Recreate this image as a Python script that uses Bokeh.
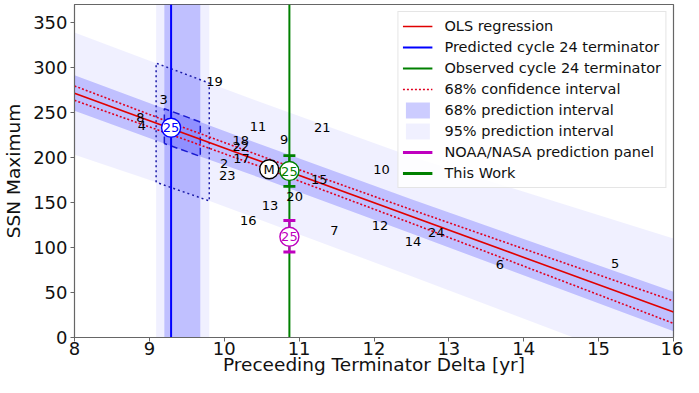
import numpy as np
from bokeh.plotting import figure
from bokeh.models import Range1d, BoxAnnotation, Legend, LegendItem, FixedTicker
from bokeh.core.properties import value
from bokeh.embed import file_html
from bokeh.resources import INLINE

# ---- data ----
cycles = ["2", "3", "4", "5", "6", "7", "8", "9", "10", "11", "12", "13",
          "14", "15", "16", "17", "18", "19", "20", "21", "22", "23", "24"]
delta = [10.00, 9.19, 8.90, 15.22, 13.68, 11.47, 8.88, 10.80, 12.10, 10.45, 12.08, 10.61,
         12.52, 11.27, 10.32, 10.23, 10.22, 9.87, 10.94, 11.31, 10.22, 10.04, 12.83]
ssn_max = [193.0, 264.3, 235.3, 82.0, 81.2, 119.2, 244.9, 219.9, 186.2, 233.9, 124.4, 146.2,
           107.1, 175.7, 130.2, 198.6, 218.7, 285.0, 156.6, 232.9, 212.5, 180.3, 116.4]

reg_x = [8.0, 16.0]
reg_y = [271.3, 28.2]

band_x = [8.0, 9.5, 10.6, 12.5, 16.0]
conf_hi = [279.5, 232.0, 198.3, 142.0, 40.6]
conf_lo = [263.5, 219.2, 186.3, 127.0, 15.7]
pred68_hi = [291.5, 245.0, 211.0, 153.5, 50.8]
pred68_lo = [252.0, 206.5, 173.8, 115.5, 7.0]
pred95_hi = [339.0, 292.0, 258.0, 201.0, 110.0]
pred95_lo = [203.0, 161.0, 127.0, 68.0, -42.0]

pred_term = 9.29
pred_term_68 = [9.20, 9.68]
pred_term_95 = [9.09, 9.80]
pred_ssn = 233.0
obs_term = 10.87
mean_point = [10.60, 187.0]

noaa = [112.0, 95.0, 130.0]     # value, low, high
this_work = [185.0, 168.0, 202.0]

x_lim = [8, 16]
y_lim = [0, 370]
x_ticks = [8, 9, 10, 11, 12, 13, 14, 15, 16]
y_ticks = [0, 50, 100, 150, 200, 250, 300, 350]

FONT = "DejaVu Sans"
MAGENTA = "#bf00bf"

p = figure(width=683, height=377, x_range=Range1d(*x_lim), y_range=Range1d(*y_lim),
           output_backend="svg", toolbar_location=None,
           min_border_left=65, min_border_right=10, min_border_top=4, min_border_bottom=0)
p.grid.visible = False
p.outline_line_color = "#666666"
p.outline_line_width = 1.2

for ax in (p.xaxis, p.yaxis):
    ax.axis_line_color = "#666666"
    ax.major_tick_line_color = "#666666"
    ax.minor_tick_line_color = None
    ax.major_tick_out = 4
    ax.major_tick_in = 0
    ax.major_label_text_font = FONT
    ax.major_label_text_font_size = "18px"
    ax.major_label_text_color = "#111111"
    ax.axis_label_text_font = FONT
    ax.axis_label_text_font_size = "18.5px"
    ax.axis_label_text_font_style = "normal"
    ax.axis_label_text_color = "#111111"
p.xaxis.ticker = FixedTicker(ticks=x_ticks)
p.yaxis.ticker = FixedTicker(ticks=y_ticks)
p.xaxis.axis_label = "Preceeding Terminator Delta [yr]"
p.yaxis.axis_label = "SSN Maximum"
p.xaxis.major_label_standoff = 0
p.xaxis.axis_label_standoff = -4
p.yaxis.major_label_standoff = 3
p.yaxis.axis_label_standoff = 6

# vertical prediction bands for the terminator
p.add_layout(BoxAnnotation(left=pred_term_95[0], right=pred_term_95[1], fill_color="blue",
                           fill_alpha=0.06, line_color=None, level="underlay"))
p.add_layout(BoxAnnotation(left=pred_term_68[0], right=pred_term_68[1], fill_color="blue",
                           fill_alpha=0.2, line_color=None, level="underlay"))

# prediction bands
r95 = p.varea(x=band_x, y1=pred95_lo, y2=pred95_hi, fill_color="blue", fill_alpha=0.06)
r68 = p.varea(x=band_x, y1=pred68_lo, y2=pred68_hi, fill_color="blue", fill_alpha=0.2)

# boxes at predicted terminator
bx = np.array(band_x)
def box(xr, lo, hi):
    l0, l1 = np.interp(xr, bx, lo)
    h0, h1 = np.interp(xr, bx, hi)
    return [xr[0], xr[0], xr[1], xr[1], xr[0]], [l0, h0, h1, l1, l0]
xs95, ys95 = box(pred_term_95, pred95_lo, pred95_hi)
p.line(xs95, ys95, line_color="#1a1aa8", line_width=1.5, line_dash="2 3")
xs68, ys68 = box(pred_term_68, pred68_lo, pred68_hi)
p.line(xs68, ys68, line_color="#1a1ad0", line_width=1.5, line_dash="7 4")

# regression and confidence interval
r_ols = p.line(reg_x, reg_y, line_color="#e00000", line_width=1.6)
r_c1 = p.line(band_x, conf_hi, line_color="#e00020", line_width=1.6, line_dash="2 2")
p.line(band_x, conf_lo, line_color="#e00020", line_width=1.6, line_dash="2 2")

# terminator lines
r_pred = p.segment(x0=[pred_term], y0=[y_lim[0]], x1=[pred_term], y1=[y_lim[1]],
                   line_color="blue", line_width=2)
r_obs = p.segment(x0=[obs_term], y0=[y_lim[0]], x1=[obs_term], y1=[y_lim[1]],
                  line_color="green", line_width=2)

# error bars
def errbar(xv, vals, color):
    p.segment(x0=[xv], y0=[vals[1]], x1=[xv], y1=[vals[2]], line_color=color, line_width=2.2)
    p.scatter([xv, xv], [vals[1], vals[2]], marker="dash", size=12, line_color=color,
              line_width=2.8)
    # legend-only proxy (hidden), drawn as a vertical stroke in the legend
    return p.vspan(x=[xv], line_color=color, line_width=2.8, visible=False)
r_noaa = errbar(obs_term, noaa, MAGENTA)
r_tw = errbar(obs_term, this_work, "green")

# circles with labels
circ_x = [pred_term, obs_term, obs_term, mean_point[0]]
circ_y = [pred_ssn, this_work[0], noaa[0], mean_point[1]]
circ_c = ["blue", "green", MAGENTA, "black"]
circ_t = ["25", "25", "25", "M"]
p.scatter(circ_x, circ_y, marker="circle", size=19, fill_color="white", line_color=circ_c,
          line_width=1.4)
p.text(circ_x, circ_y, text=circ_t, text_color=circ_c, text_align="center",
       text_baseline="middle", text_font=value(FONT), text_font_size="13px")

# cycle numbers
p.text(delta, ssn_max, text=cycles, text_color="black", text_align="center",
       text_baseline="middle", text_font=value(FONT), text_font_size="13px")

legend = Legend(items=[
    LegendItem(label="OLS regression", renderers=[r_ols]),
    LegendItem(label="Predicted cycle 24 terminator", renderers=[r_pred]),
    LegendItem(label="Observed cycle 24 terminator", renderers=[r_obs]),
    LegendItem(label="68% confidence interval", renderers=[r_c1]),
    LegendItem(label="68% prediction interval", renderers=[r68]),
    LegendItem(label="95% prediction interval", renderers=[r95]),
    LegendItem(label="NOAA/NASA prediction panel", renderers=[r_noaa]),
    LegendItem(label="This Work", renderers=[r_tw]),
], location="top_right", label_text_font=FONT, label_text_font_size="14.5px",
    label_text_color="#111111", glyph_width=30, glyph_height=20, label_height=20,
    spacing=1, padding=4, margin=7, label_standoff=12,
    border_line_color="#cccccc", background_fill_alpha=0.85,
    inactive_fill_alpha=0.0)
p.add_layout(legend)

open("out.html", "w").write(file_html(p, INLINE))
